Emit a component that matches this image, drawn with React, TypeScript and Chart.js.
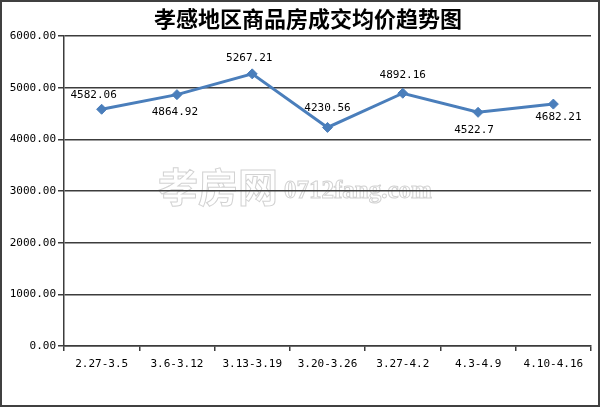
import React, { useEffect, useRef } from "react";
import { Chart, registerables } from "chart.js";
Chart.register(...registerables);

const TITLE = "孝感地区商品房成交均价趋势图";
const WATERMARK_CN = "孝房网";
const WATERMARK_EN = "0712fang.com";
const categories = ["2.27-3.5", "3.6-3.12", "3.13-3.19", "3.20-3.26", "3.27-4.2", "4.3-4.9", "4.10-4.16"];
const avgPrice = [4582.06, 4864.92, 5267.21, 4230.56, 4892.16, 4522.7, 4682.21];
const priceLabels = ["4582.06", "4864.92", "5267.21", "4230.56", "4892.16", "4522.7", "4682.21"];
const yMin = 0;
const yMax = 6000;
const yStep = 1000;

// label placement relative to each point (style config)
const LABEL_OFFSETS: [number, number][] = [
  [-8, -14],
  [-2, 17],
  [-3, -16],
  [0, -19],
  [0, -18],
  [-4, 18],
  [5, 13],
];

const MONO = '"DejaVu Sans Mono", monospace';
const LINE_COLOR = "#4a7ebb";
const GRID_COLOR = "#3c3c3c";

export default function App() {
  const ref = useRef<HTMLCanvasElement | null>(null);

  useEffect(() => {
    document.body.style.margin = "0";
    const canvas = ref.current;
    if (!canvas) return;

    const decor = {
      id: "decor",
      beforeDraw(chart: any) {
        const ctx = chart.ctx;
        ctx.save();
        ctx.fillStyle = "#ffffff";
        ctx.fillRect(0, 0, chart.width, chart.height);
        // watermark
        ctx.strokeStyle = "#d2d2d2";
        ctx.lineWidth = 1;
        ctx.textBaseline = "alphabetic";
        ctx.textAlign = "left";
        ctx.font = 'bold 40px "Noto Sans CJK SC"';
        ctx.strokeText(WATERMARK_CN, 158, 202);
        ctx.font = 'bold 25px "Liberation Serif"';
        ctx.strokeText(WATERMARK_EN, 284, 198);
        ctx.restore();
      },
      afterDatasetsDraw(chart: any) {
        const ctx = chart.ctx;
        const meta = chart.getDatasetMeta(0);
        ctx.save();
        ctx.font = "11px " + MONO;
        ctx.fillStyle = "#000000";
        ctx.textAlign = "center";
        ctx.textBaseline = "middle";
        meta.data.forEach((pt: any, i: number) => {
          const off = LABEL_OFFSETS[i] || [0, -15];
          ctx.fillText(priceLabels[i], pt.x + off[0], pt.y + off[1]);
        });
        ctx.restore();
      },
      afterDraw(chart: any) {
        const ctx = chart.ctx;
        ctx.save();
        ctx.font = 'bold 22px "Noto Sans CJK SC"';
        ctx.fillStyle = "#000000";
        ctx.textAlign = "center";
        ctx.textBaseline = "middle";
        ctx.fillText(TITLE, 308, 19);
        ctx.strokeStyle = "#404040";
        ctx.lineWidth = 2;
        ctx.strokeRect(1, 1, chart.width - 2, chart.height - 2);
        ctx.restore();
      },
    };

    const chart = new Chart(canvas, {
      type: "line",
      data: {
        labels: categories,
        datasets: [
          {
            data: avgPrice,
            borderColor: LINE_COLOR,
            backgroundColor: LINE_COLOR,
            borderWidth: 3,
            pointStyle: "rectRot",
            pointRadius: 5,
            pointBackgroundColor: LINE_COLOR,
            pointBorderColor: LINE_COLOR,
            pointBorderWidth: 1,
            tension: 0,
            fill: false,
          },
        ],
      },
      options: {
        animation: false,
        responsive: false,
        maintainAspectRatio: false,
        layout: { padding: { left: 0, right: 9, top: 36, bottom: 0 } },
        plugins: {
          legend: { display: false },
          title: { display: false },
          tooltip: { enabled: false },
        },
        scales: {
          x: {
            offset: true,
            grid: {
              offset: true,
              drawOnChartArea: false,
              drawTicks: true,
              tickLength: 5,
              color: GRID_COLOR,
              lineWidth: 1.5,
            },
            border: { display: true, color: GRID_COLOR, width: 1.5 },
            ticks: {
              font: { family: MONO, size: 11 },
              color: "#000000",
              padding: 7,
              maxRotation: 0,
              autoSkip: false,
            },
            afterFit(scale: any) {
              scale.height = 61;
            },
          },
          y: {
            min: yMin,
            max: yMax,
            grid: {
              drawTicks: true,
              tickLength: 6,
              color: GRID_COLOR,
              lineWidth: 1.5,
            },
            border: { display: true, color: GRID_COLOR, width: 1.5 },
            ticks: {
              stepSize: yStep,
              font: { family: MONO, size: 11 },
              color: "#000000",
              padding: 2,
              callback: (v: any) => Number(v).toFixed(2),
            },
            afterFit(scale: any) {
              scale.width = 64;
            },
          },
        },
      },
      plugins: [decor],
    });

    return () => chart.destroy();
  }, []);

  return (
    <div style={{ position: "absolute", left: 0, top: 0, width: 600, height: 407 }}>
      <canvas ref={ref} width={600} height={407} style={{ width: 600, height: 407, display: "block" }} />
    </div>
  );
}
